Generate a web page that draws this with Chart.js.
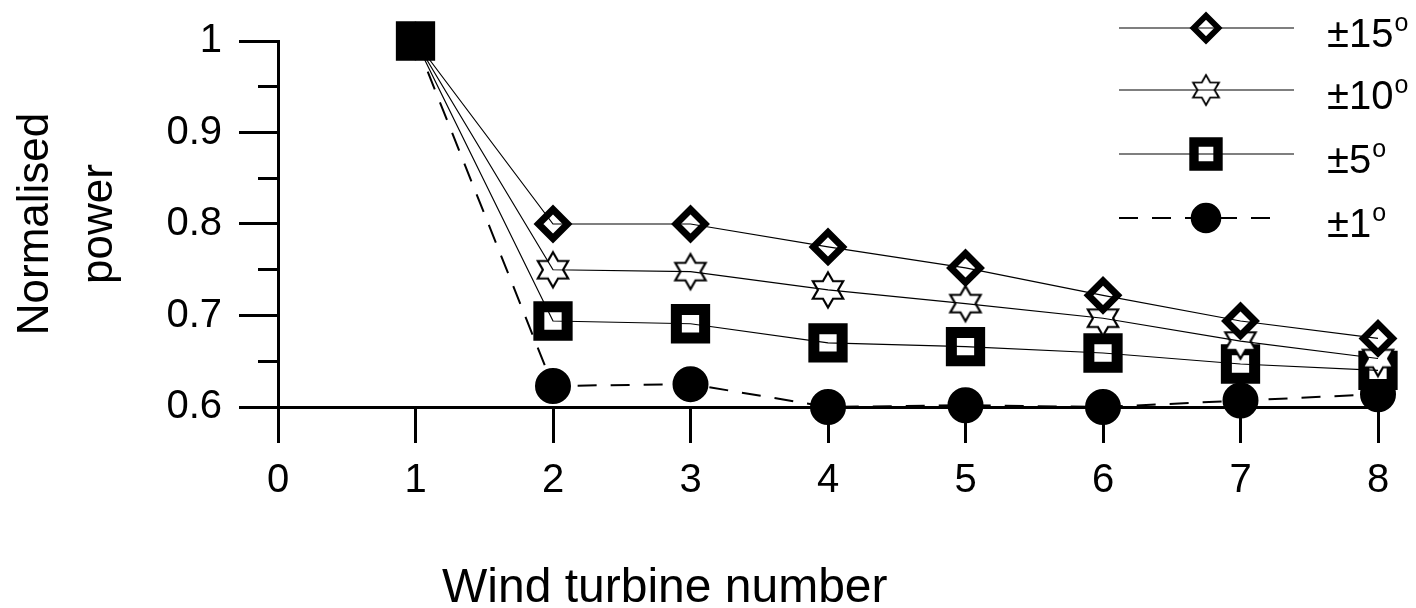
<!DOCTYPE html>
<html>
<head>
<meta charset="utf-8">
<script src="https://cdn.jsdelivr.net/npm/chart.js@4.4.1/dist/chart.umd.min.js"></script>
<style>
  html, body { margin: 0; padding: 0; background: #ffffff; }
</style>
</head>
<body>
<canvas id="graph" width="1416" height="608"></canvas>
<script>
// turbine index along the row
const turbines = [1, 2, 3, 4, 5, 6, 7, 8];

// normalised power per yaw-misalignment band
const power_15 = [1.0, 0.800, 0.800, 0.775, 0.752, 0.722, 0.694, 0.675];
const power_10 = [1.0, 0.750, 0.748, 0.728, 0.713, 0.697, 0.672, 0.653];
const power_5 = [1.0, 0.694, 0.691, 0.670, 0.666, 0.659, 0.647, 0.640];
const power_1 = [1.0, 0.623, 0.625, 0.600, 0.602, 0.600, 0.607, 0.614];

const seriesLabels = ['±15', '±10', '±5', '±1'];
const yTickValues = [0.6, 0.7, 0.8, 0.9, 1.0];
const yTickLabels = ['0.6', '0.7', '0.8', '0.9', '1'];
const xTitle = 'Wind turbine number';
const yTitle = ['Normalised', 'power'];

const FONT = '"Liberation Sans", Arial, Helvetica, sans-serif';
Chart.defaults.font.family = FONT;
Chart.defaults.color = '#000000';

function toPoints(values) {
    return turbines.map((t, i) => ({x: t, y: values[i]}));
}

function makeStar(fill) {
    const c = document.createElement('canvas');
    c.width = 44;
    c.height = 44;
    const g = c.getContext('2d');
    const R = 17.5, r = R / Math.sqrt(3);
    g.beginPath();
    for (let k = 0; k < 12; k++) {
        const a = -Math.PI / 2 + k * Math.PI / 6;
        const rad = k % 2 === 0 ? R : r;
        g.lineTo(22 + rad * Math.cos(a), 22 + rad * Math.sin(a));
    }
    g.closePath();
    g.fillStyle = fill;
    g.fill();
    g.lineWidth = 2.2;
    g.strokeStyle = '#000000';
    g.stroke();
    return c;
}
const starWhite = makeStar('#ffffff');
const starBlack = makeStar('#000000');

// first point (turbine 1) is drawn solid, like in the original plot
const fillFirst = (ctx) => ctx.dataIndex === 0 ? '#000000' : '#ffffff';

const markers = [
    {pointStyle: 'rectRot', pointRadius: 14.5, pointBorderWidth: 7, pointBackgroundColor: fillFirst},
    {pointStyle: (ctx) => ctx.dataIndex === 0 ? starBlack : starWhite, pointRadius: 18, pointBorderWidth: 0, pointBackgroundColor: fillFirst},
    {pointStyle: 'rect', pointRadius: 20, pointBorderWidth: 11, pointBackgroundColor: fillFirst},
    {pointStyle: 'circle', pointRadius: 17, pointBorderWidth: 2, pointBackgroundColor: '#000000'}
];
// solid lines show through the hollow symbols, the dashed one runs behind the dots
const lineStyles = [
    {borderWidth: 1.2, borderDash: [], order: 0},
    {borderWidth: 1.2, borderDash: [], order: 0},
    {borderWidth: 1.2, borderDash: [], order: 0},
    {borderWidth: 2, borderDash: [19, 14], order: 2}
];
const seriesValues = [power_15, power_10, power_5, power_1];

const datasets = [];
seriesValues.forEach((values, i) => {
    datasets.push(Object.assign({
        label: seriesLabels[i],
        data: toPoints(values),
        showLine: false,
        clip: false,
        pointBorderColor: '#000000',
        order: 1
    }, markers[i]));
});
seriesValues.forEach((values, i) => {
    datasets.push(Object.assign({
        label: seriesLabels[i] + ' line',
        data: toPoints(values),
        showLine: true,
        clip: false,
        borderColor: '#000000',
        pointRadius: 0
    }, lineStyles[i]));
});

function isMajor(v) {
    return Math.abs(v * 10 - Math.round(v * 10)) < 1e-6;
}

const sideLegend = {
    id: 'sideLegend',
    afterDraw(chart) {
        const ctx = chart.ctx;
        const rowY = [28, 90, 154, 218];
        const lineX0 = 1119, lineX1 = 1294, markX = 1206, textX = 1327;
        ctx.save();
        for (let i = 0; i < 4; i++) {
            const y = rowY[i];
            const m = markers[i];
            const ls = lineStyles[i];

            if (i === 3) {
                ctx.beginPath();
                ctx.setLineDash(ls.borderDash);
                ctx.lineWidth = ls.borderWidth;
                ctx.strokeStyle = '#000000';
                ctx.moveTo(lineX0, y);
                ctx.lineTo(lineX1 - 10, y);
                ctx.stroke();
                ctx.setLineDash([]);
            }

            ctx.save();
            ctx.translate(markX, y);
            ctx.scale(0.85, 0.85);
            ctx.fillStyle = i === 3 ? '#000000' : '#ffffff';
            ctx.strokeStyle = '#000000';
            ctx.lineWidth = m.pointBorderWidth;
            const style = typeof m.pointStyle === 'function' ? starWhite : m.pointStyle;
            Chart.helpers.drawPoint(ctx, {pointStyle: style, radius: m.pointRadius, borderWidth: m.pointBorderWidth, rotation: 0}, 0, 0);
            ctx.restore();

            if (i !== 3) {
                ctx.beginPath();
                ctx.lineWidth = ls.borderWidth;
                ctx.strokeStyle = '#000000';
                ctx.moveTo(lineX0, y);
                ctx.lineTo(lineX1, y);
                ctx.stroke();
            }

            ctx.fillStyle = '#000000';
            ctx.textAlign = 'left';
            ctx.textBaseline = 'alphabetic';
            ctx.font = '40px ' + FONT;
            ctx.fillText(seriesLabels[i], textX, y + 19);
            const w = ctx.measureText(seriesLabels[i]).width;
            ctx.font = '25px ' + FONT;
            ctx.fillText('o', textX + w + 1, y + 3);
        }

        // x axis title sits left of centre in the original
        ctx.font = '48px ' + FONT;
        ctx.textAlign = 'left';
        ctx.textBaseline = 'alphabetic';
        ctx.fillText(xTitle, chart.chartArea.left + 164, 602);
        ctx.restore();
    }
};

const graph = new Chart(document.getElementById('graph'), {
    type: 'scatter',
    data: {datasets: datasets},
    options: {
        responsive: false,
        animation: false,
        events: [],
        layout: {padding: {top: 41, right: 38, bottom: 0, left: 0}},
        plugins: {
            legend: {display: false},
            tooltip: {enabled: false}
        },
        scales: {
            x: {
                type: 'linear',
                min: 0,
                max: 8,
                border: {color: '#000000', width: 3},
                grid: {
                    display: true,
                    drawOnChartArea: false,
                    drawTicks: true,
                    tickLength: 36,
                    tickWidth: 3,
                    tickColor: '#000000'
                },
                ticks: {
                    stepSize: 1,
                    autoSkip: false,
                    maxRotation: 0,
                    padding: 14,
                    color: '#000000',
                    font: {size: 40}
                },
                afterFit: function (scale) { scale.height = 201; }
            },
            y: {
                type: 'linear',
                min: 0.6,
                max: 1.0,
                border: {color: '#000000', width: 3},
                grid: {
                    display: true,
                    drawOnChartArea: false,
                    drawTicks: true,
                    tickLength: 39,
                    tickWidth: 3,
                    tickColor: '#000000',
                    tickBorderDash: (c) => (c.tick && isMajor(c.tick.value)) ? [] : [0, 19, 20, 0]
                },
                ticks: {
                    stepSize: 0.05,
                    autoSkip: false,
                    padding: 17,
                    color: '#000000',
                    font: {size: 40},
                    callback: function (value) {
                        if (!isMajor(value)) return '';
                        const k = yTickValues.findIndex(v => Math.abs(v - value) < 1e-6);
                        return k >= 0 ? yTickLabels[k] : '';
                    }
                },
                title: {
                    display: true,
                    text: yTitle,
                    color: '#000000',
                    font: {size: 44, lineHeight: 1.45},
                    padding: {top: 4, bottom: 0}
                },
                afterFit: function (scale) { scale.width = 278; }
            }
        }
    },
    plugins: [sideLegend]
});
</script>
</body>
</html>
